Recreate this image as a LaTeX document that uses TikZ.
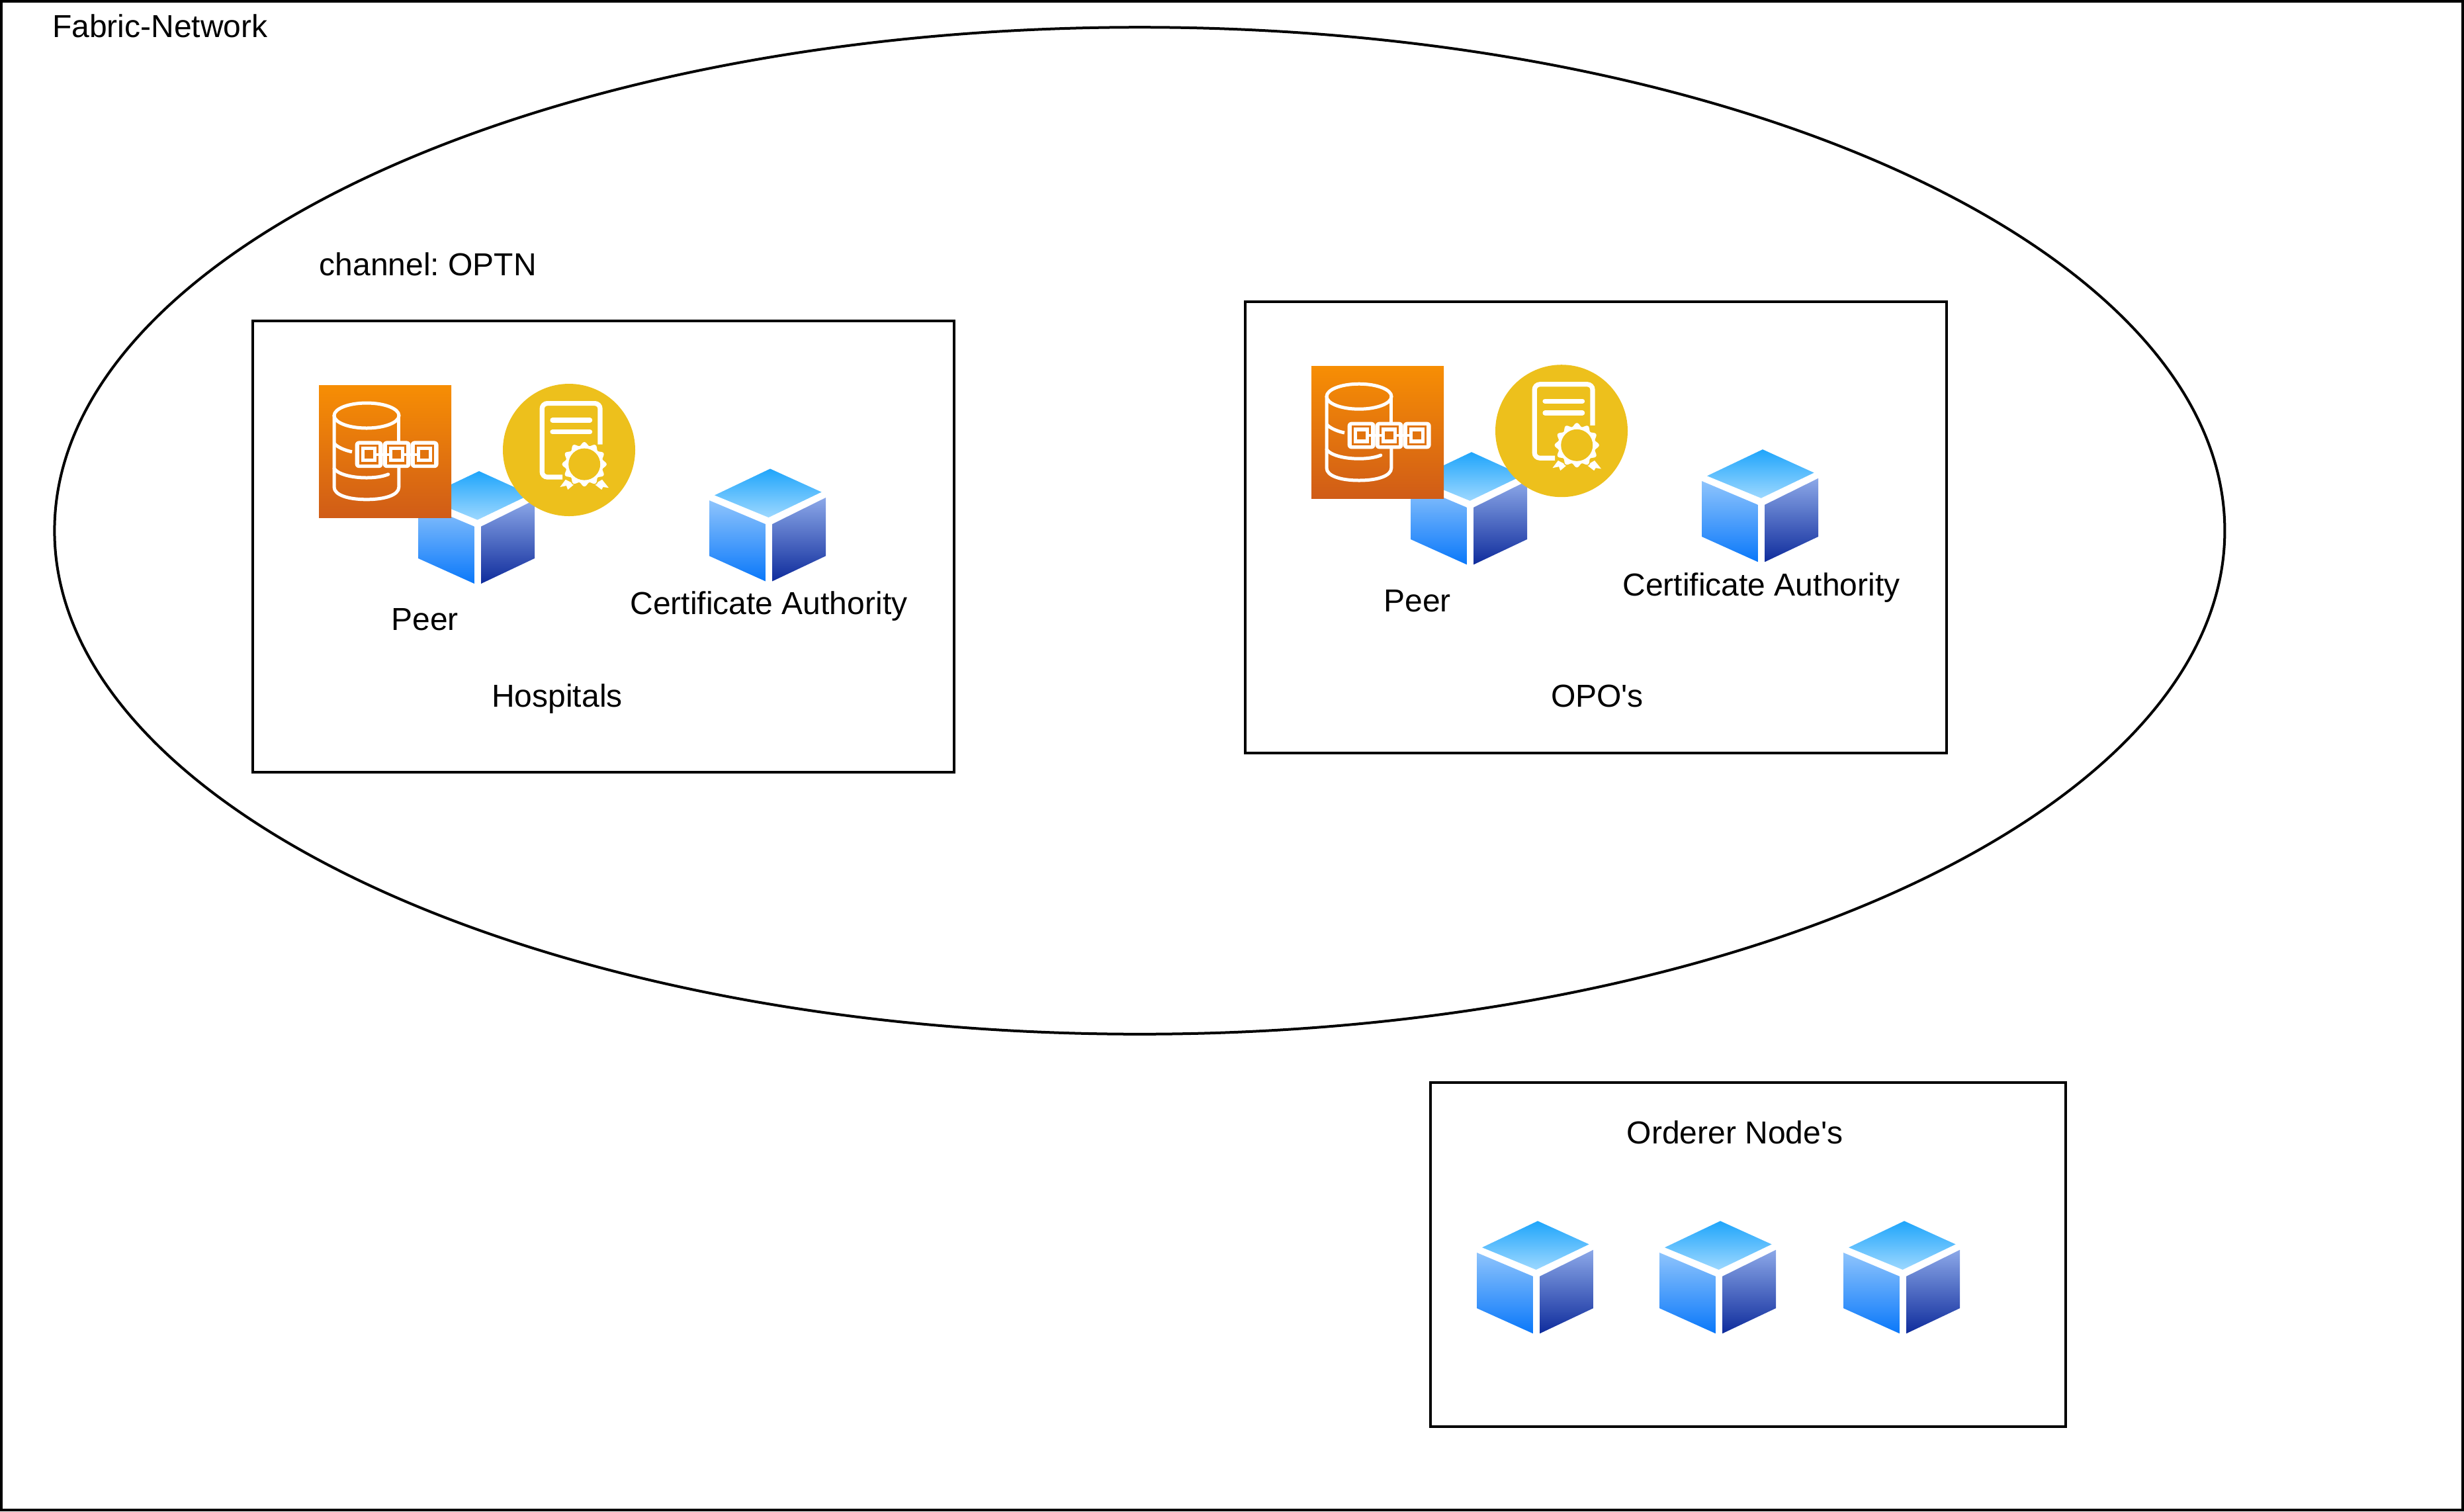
\documentclass[tikz,border=0pt]{standalone}
\usepackage{fontspec}
\setmainfont{Liberation Sans}
\frenchspacing
\tikzset{
    lbl/.style={inner sep=0pt,text height=8.7pt,text depth=2.5pt,font=\fontsize{12}{14}\selectfont},
    box/.style={draw=black,line width=1pt},
    cubeicon/.pic={
      \shade[top color=cubetopA,bottom color=cubetopB] (1,-21.2) -- (20.4,-12.4) -- (0.4,-2.8) -- (-20,-11.2) -- cycle;
      \shade[top color=cubeleftA,bottom color=cubeleftB] (-22,-9.25) -- (-0.8,-0.3) -- (-0.8,21.3) -- (-22,11.75) -- cycle;
      \shade[top color=cuberightA,bottom color=cuberightB] (1.8,-0.3) -- (22,-10.3) -- (22,11.75) -- (1.8,21.3) -- cycle;
    },
    chainicon/.pic={
      \shade[top color=chainA,bottom color=chainB] (0,0) rectangle (50,50);
      \draw[white,line width=1.25pt] (18,11.5) ellipse [x radius=12.25,y radius=4.75];
      \draw[white,line width=1.25pt,line cap=round] (5.75,11.5) -- (5.75,38.5) .. controls (5.75,41.5) and (11,43.2) .. (18,43.2) .. controls (25,43.2) and (30.2,41.5) .. (30.2,38.5) -- (30.2,30);
      \draw[white,line width=1.25pt] (30.2,11.5) -- (30.2,22);
      \draw[white,line width=1.25pt] (5.75,22) .. controls (7,23.5) and (10,24.7) .. (12.5,25.2);
      \draw[white,line width=1.25pt,line cap=round] (5.75,31.5) .. controls (7,33.5) and (12,35) .. (18,35) .. controls (21,35) and (24,34.6) .. (26.2,33.7);
      \foreach \cx in {18.9,29.4,39.9} {
        \fill[white,rounded corners=1.5pt] (\cx-5.25,21.1) rectangle (\cx+5.25,31.3);
      }
      \foreach \cx in {18.9,29.4,39.9} {
        \fill[chainmid] (\cx-3.7,22.5) rectangle (\cx+3.7,29.9);
        \fill[white] (\cx-2.9,23.3) rectangle (\cx+2.9,29.1);
      }
      \fill[white] (18.9,25.65) rectangle (39.9,26.75);
      \foreach \cx in {18.9,29.4,39.9} {
        \fill[chainmid] (\cx-1.6,24.6) rectangle (\cx+1.6,27.8);
      }
    },
    certicon/.pic={
      \fill[certyellow] (0,0) circle (25);
      \draw[white,line width=1.8pt,rounded corners=2pt] (-2.5,10.25) -- (-10.2,10.25) -- (-10.2,-17.6) -- (11.75,-17.6) -- (11.75,-2.1);
      \draw[white,line width=1.8pt,line cap=round] (-6.25,-11.25) -- (7.9,-11.25);
      \draw[white,line width=1.8pt,line cap=round] (-6.25,-6.8) -- (7.9,-6.8);
      \fill[white] (-1.3,11.2) -- (2.05,12.9) -- (-0.45,15) -- (-1,13.5) -- (-3.4,14) -- cycle;
      \fill[white] (12.5,11.2) -- (15,14.3) -- (12.9,14) -- (12.3,15) -- (9.55,12.9) -- cycle;
      \draw[certyellow,line width=0.8pt] plot[samples=121,domain=0:360,variable=\t] ({5.8+(7.75+0.65*cos(12*\t))*cos(\t)},{5.4+(7.75+0.65*cos(12*\t))*sin(\t)}) -- cycle;
      \fill[white] plot[samples=121,domain=0:360,variable=\t] ({5.8+(7.75+0.65*cos(12*\t))*cos(\t)},{5.4+(7.75+0.65*cos(12*\t))*sin(\t)}) -- cycle;
      \fill[certyellow] (5.8,5.4) circle (6);
    },
}
\definecolor{cubetopA}{HTML}{1FA5FB}
\definecolor{cubetopB}{HTML}{9DD8FF}
\definecolor{cubeleftA}{HTML}{8EC4FC}
\definecolor{cubeleftB}{HTML}{0A78FA}
\definecolor{cuberightA}{HTML}{8CA8E8}
\definecolor{cuberightB}{HTML}{0F2C9C}
\definecolor{chainA}{HTML}{F78E04}
\definecolor{chainB}{HTML}{D05C17}
\definecolor{chainmid}{HTML}{E2740E}
\definecolor{certyellow}{HTML}{EDC01C}

\begin{document}
\begin{tikzpicture}[x=1pt,y=-1pt]
	\useasboundingbox (0,0) rectangle (931,571);
	%reseau et canal
	\draw[box] (0.5,0.5) rectangle (930.5,570.5);
	\draw[box] (430.6,200.5) ellipse [x radius=410,y radius=190.2];
	\draw[box] (95.6,121.2) rectangle (360.6,291.7);
	\draw[box] (470.4,114) rectangle (735.6,284.5);
	\draw[box] (540.4,409) rectangle (780.4,539);
	\node[lbl,anchor=west] (fabric) at (19.6,11.1) {Fabric-Network};
	\node[lbl,anchor=west] (channel) at (120.5,101.1) {channel: OPTN};
	%hospitals
	\pic (peerA) at (180,199.2) {cubeicon};
	\pic (chainA) at (120.5,145.5) {chainicon};
	\pic (certA) at (215,170) {certicon};
	\pic (caA) at (290,198.3) {cubeicon};
	\node[lbl] (peerlabelA) at (160.5,235.1) {Peer};
	\node[lbl] (calabelA) at (290.5,229.1) {Certificate Authority};
	\node[lbl] (hospitals) at (210.5,264.1) {Hospitals};
	%opo
	\pic (peerB) at (555,192) {cubeicon};
	\pic (chainB) at (495.5,138.3) {chainicon};
	\pic (certB) at (590,162.8) {certicon};
	\pic (caB) at (665,191) {cubeicon};
	\node[lbl] (peerlabelB) at (535.5,228.1) {Peer};
	\node[lbl] (calabelB) at (665.5,222.1) {Certificate Authority};
	\node[lbl] (opo) at (603.5,264.1) {OPO\textquotesingle s};
	%orderer
	\node[lbl] (orderer) at (655.5,429.1) {Orderer Node\textquotesingle s};
	\pic (ordererA) at (580,482.5) {cubeicon};
	\pic (ordererB) at (649,482.5) {cubeicon};
	\pic (ordererC) at (718.5,482.5) {cubeicon};
\end{tikzpicture}
\end{document}
